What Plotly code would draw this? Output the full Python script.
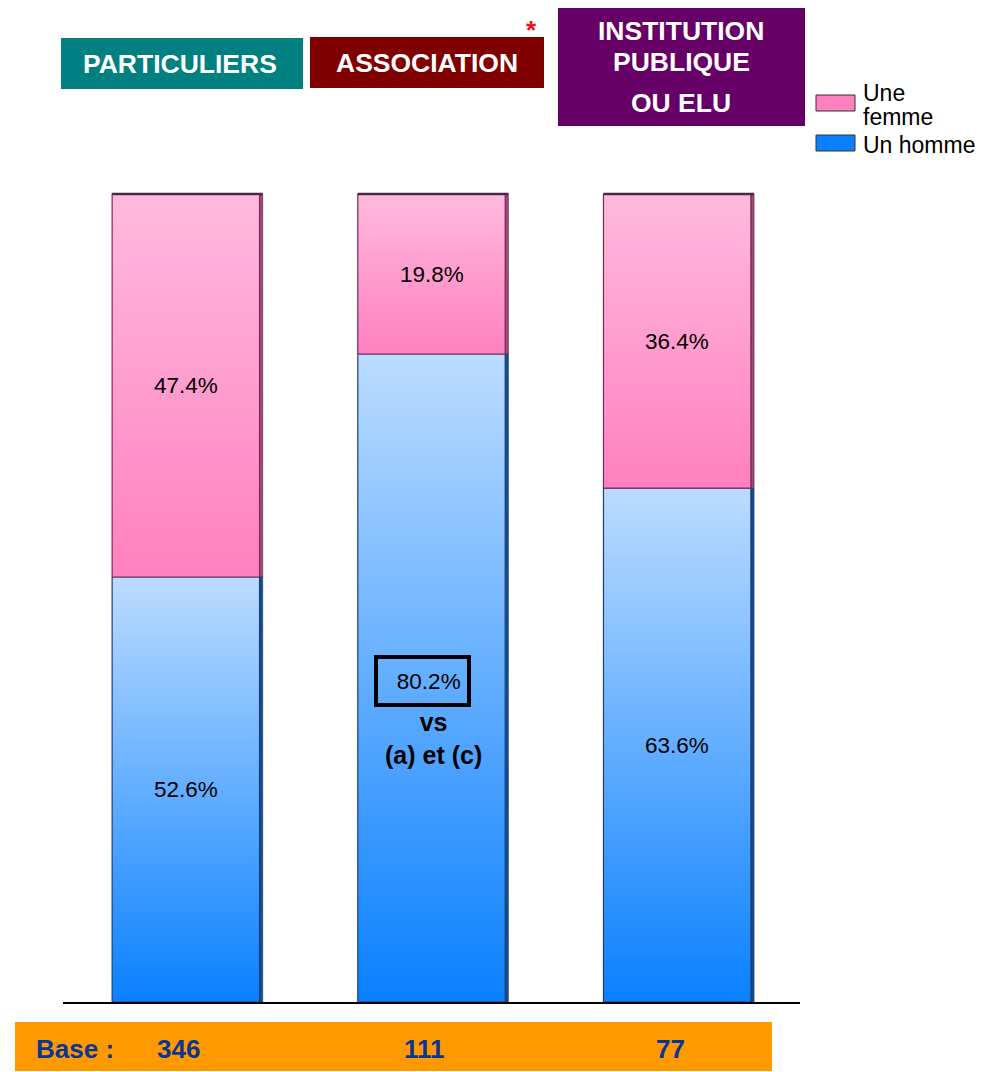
import plotly.graph_objects as go

# ---------------- data ----------------
categories = ["PARTICULIERS", "ASSOCIATION", "INSTITUTION PUBLIQUE OU ELU"]
series_names = ["Une femme", "Un homme"]
homme = [52.6, 80.2, 63.6]
femme = [47.4, 19.8, 36.4]
bases = [346, 111, 77]
highlight_index = 1          # ASSOCIATION / Un homme is highlighted
highlight_note = "vs<br>(a) et (c)"

# ---------------- layout helpers ----------------
OFF = 8                      # page body margin of the browser
W, H = 994 - OFF, 1072 - OFF
L, T = 63 - OFF, 190 - OFF
B = H - (1002 - OFF)
RM = W - (800 - OFF)
PW = W - L - RM
PH = H - T - B
FONT = "Arial, Liberation Sans, sans-serif"


def xp(px):
    """reference-picture pixel x -> paper x"""
    return (px - OFF - L) / PW


def yp(py):
    """reference-picture pixel y -> paper y"""
    return (H - B - (py - OFF)) / PH


bar_w = 0.6
side_w = 0.013

PINK_TOP, PINK_BOT, PINK_EDGE, PINK_SIDE = "#ffbadd", "#ff80c0", "#7a2a55", "#a8457a"
BLUE_TOP, BLUE_BOT, BLUE_EDGE, BLUE_SIDE = "#bcdcff", "#0a80ff", "#1c3f75", "#0a4f9c"

fig = go.Figure()


def add_segment(i, y0, y1, top_col, bot_col, edge_col, side_col):
    x0, x1 = i - bar_w / 2, i + bar_w / 2
    # right side (3D depth)
    fig.add_trace(go.Scatter(
        x=[x1, x1 + side_w, x1 + side_w, x1, x1],
        y=[y0, y0, y1, y1, y0],
        fill="toself", fillcolor=side_col, mode="lines",
        line=dict(color="#333333", width=0.6),
        hoverinfo="skip", showlegend=False))
    # front face with vertical gradient
    fig.add_trace(go.Scatter(
        x=[x0, x1, x1, x0, x0],
        y=[y0, y0, y1, y1, y0],
        fill="toself",
        fillgradient=dict(type="vertical", colorscale=[[0, bot_col], [1, top_col]]),
        mode="lines", line=dict(color=edge_col, width=1.2),
        hoverinfo="skip", showlegend=False))


annotations = []
LBL = dict(family=FONT, size=22.5, color="black")
for i, cat in enumerate(categories):
    h, f = homme[i], femme[i]
    add_segment(i, 0, h, BLUE_TOP, BLUE_BOT, BLUE_EDGE, BLUE_SIDE)
    add_segment(i, h, h + f, PINK_TOP, PINK_BOT, PINK_EDGE, PINK_SIDE)
    # top edge (3D top face)
    fig.add_trace(go.Scatter(
        x=[i - bar_w / 2, i + bar_w / 2 + side_w], y=[h + f, h + f],
        mode="lines", line=dict(color="#4a2a40", width=2.5),
        hoverinfo="skip", showlegend=False))
    # femme label
    annotations.append(dict(x=i, y=h + f / 2, xref="x", yref="y", text=f"{f:.1f}%",
                            xanchor="center", yanchor="middle",
                            showarrow=False, font=LBL))
    if i == highlight_index:
        annotations.append(dict(x=i, y=h / 2, xref="x", yref="y",
                                text=f"&nbsp;&nbsp;{h:.1f}%",
                                xanchor="center", yanchor="middle",
                                showarrow=False, font=LBL,
                                bordercolor="black", borderwidth=4, borderpad=2,
                                width=85, height=40, align="center", xshift=-9, yshift=-3))
        annotations.append(dict(x=i, y=h / 2, xref="x", yref="y", text=highlight_note,
                                xanchor="center", yanchor="middle",
                                showarrow=False, yshift=-60, xshift=2,
                                font=dict(family=FONT, size=25, color="black", weight="bold")))
    else:
        annotations.append(dict(x=i, y=h / 2, xref="x", yref="y", text=f"{h:.1f}%",
                                xanchor="center", yanchor="middle",
                                showarrow=False, font=LBL))
    # base value
    annotations.append(dict(x=i, y=yp(1049), xref="x", yref="paper", text=f"<b>{bases[i]}</b>",
                            xanchor="center", yanchor="middle",
                            showarrow=False, xshift=-7,
                            font=dict(family=FONT, size=26, color="#0a3595")))

shapes = []
# header boxes
headers = [
    (61, 303, 38, 89, "#008080"),
    (310, 544, 37, 88, "#800000"),
    (558, 805, 5, 126, "#660066"),
]
for x0, x1, y0, y1, col in headers:
    shapes.append(dict(type="rect", xref="paper", yref="paper",
                       x0=xp(x0), x1=xp(x1), y0=yp(y1), y1=yp(y0),
                       fillcolor=col, line=dict(width=0), layer="below"))

hfont = dict(family=FONT, size=26.5, color="white", weight="bold")


def paper_text(px, py, text, font, anchor="center"):
    annotations.append(dict(x=xp(px), y=yp(py), xref="paper", yref="paper",
                            xanchor=anchor, yanchor="middle",
                            text=text, showarrow=False, font=font))


paper_text(180, 64, categories[0], hfont)
paper_text(427, 63, categories[1], hfont)
inst_lines = ["INSTITUTION", "PUBLIQUE", "OU ELU"]
for txt, py in zip(inst_lines, [31, 62, 103]):
    paper_text(681, py, txt, hfont)
paper_text(531, 30, "<b>*</b>", dict(family=FONT, size=26, color="#ee1111"))

# legend (drawn manually)
shapes.append(dict(type="rect", xref="paper", yref="paper",
                   x0=xp(816), x1=xp(855), y0=yp(111), y1=yp(95),
                   fillcolor=PINK_BOT, line=dict(color="#333333", width=1)))
shapes.append(dict(type="rect", xref="paper", yref="paper",
                   x0=xp(816), x1=xp(855), y0=yp(151), y1=yp(135),
                   fillcolor="#0a80ff", line=dict(color="#333333", width=1)))
lfont = dict(family=FONT, size=23, color="black")
paper_text(861, 93, series_names[0].split(" ")[0], lfont, "left")
paper_text(861, 117, series_names[0].split(" ")[1], lfont, "left")
paper_text(861, 145, series_names[1], lfont, "left")

# base band
shapes.append(dict(type="rect", xref="paper", yref="paper",
                   x0=xp(15), x1=xp(772), y0=yp(1071), y1=yp(1022),
                   fillcolor="#ff9900", line=dict(width=0), layer="below"))
paper_text(34, 1049, "<b>Base :</b>", dict(family=FONT, size=26, color="#0a3595"), "left")

fig.update_layout(
    width=W, height=H,
    margin=dict(l=L, r=RM, t=T, b=B, pad=0),
    paper_bgcolor="white", plot_bgcolor="white",
    showlegend=False,
    xaxis=dict(range=[-0.5, 2.5], showgrid=False, zeroline=False,
               showline=True, linecolor="black", linewidth=2,
               showticklabels=False, ticks="", fixedrange=True),
    yaxis=dict(range=[0, 100.5], visible=False, showgrid=False, zeroline=False,
               fixedrange=True),
    shapes=shapes,
    annotations=annotations,
)

fig.write_html("out.html")
